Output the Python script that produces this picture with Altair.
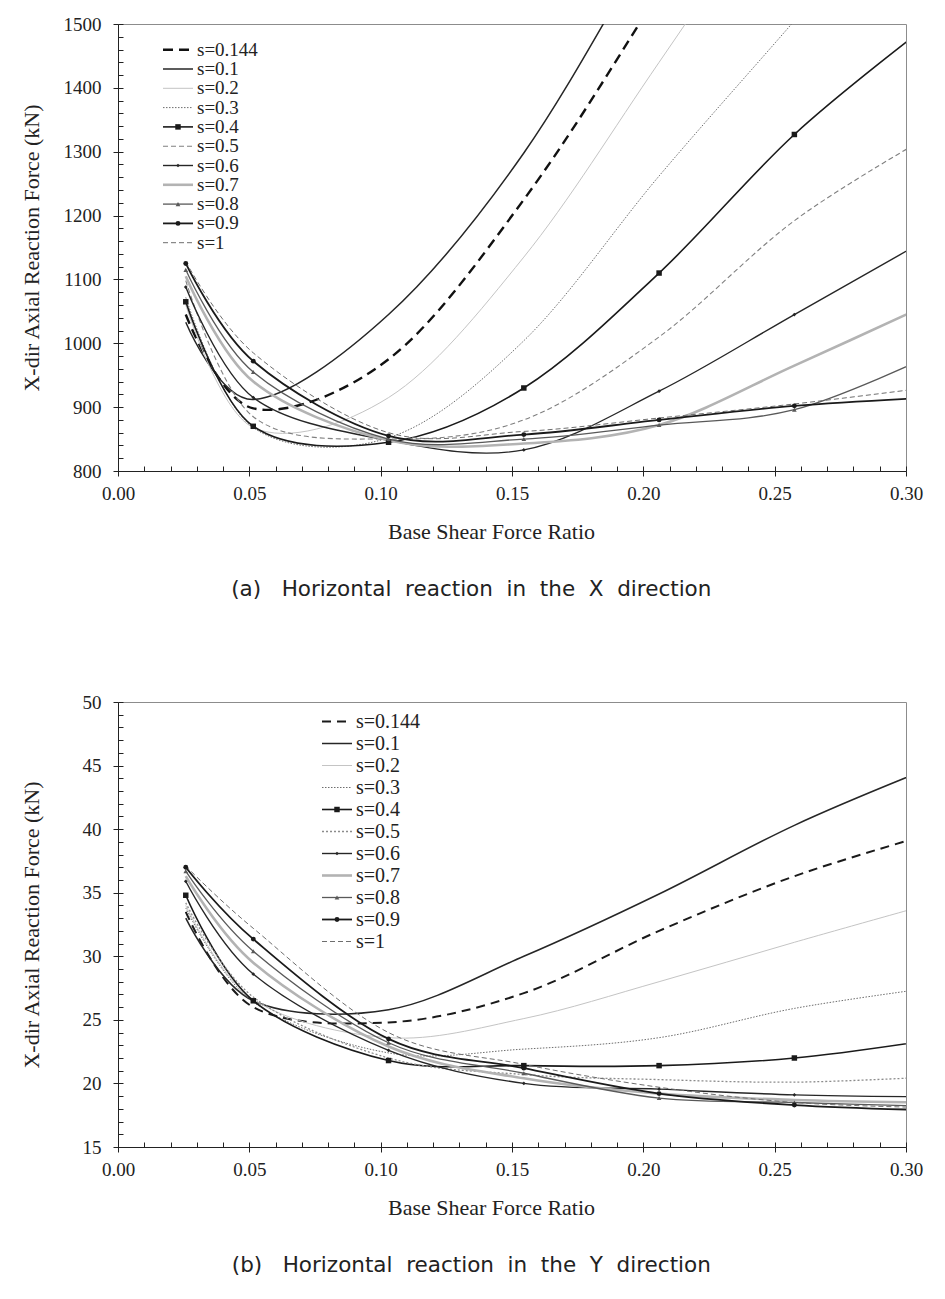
import altair as alt
import pandas as pd

SERIES = ["s=0.144", "s=0.1", "s=0.2", "s=0.3", "s=0.4", "s=0.5",
          "s=0.6", "s=0.7", "s=0.8", "s=0.9", "s=1"]
RATIO = [0.0258, 0.0515, 0.103, 0.1545, 0.206, 0.2575, 0.309]

# (a) X direction, kN
TOP_S0144 = [1045, 898, 975, 1225, 1550, 1900, 2250]
TOP_S01 = [1033, 912, 1045, 1298, 1650, 2000, 2350]
TOP_S02 = [1060, 868, 915, 1135, 1440, 1750, 2050]
TOP_S03 = [1072, 868, 852, 1004, 1262, 1505, 1750]
TOP_S04 = [1065, 870, 845, 930, 1110, 1327, 1500]
TOP_S05 = [1098, 885, 850, 880, 1010, 1192, 1325]
TOP_S06 = [1088, 915, 848, 833, 925, 1045, 1165]
TOP_S07 = [1105, 940, 848, 843, 872, 965, 1062]
TOP_S08 = [1115, 955, 850, 850, 872, 896, 980]
TOP_S09 = [1125, 972, 855, 857, 880, 902, 915]
TOP_S1 = [1128, 985, 860, 862, 883, 905, 931]

# (b) Y direction, kN
BOT_S0144 = [33.5, 26.0, 24.8, 27.1, 32.0, 36.3, 39.6]
BOT_S01 = [33.0, 26.5, 25.8, 30.0, 34.9, 40.3, 44.8]
BOT_S02 = [34.0, 26.6, 23.6, 25.1, 28.0, 31.1, 34.1]
BOT_S03 = [33.8, 26.4, 22.4, 22.7, 23.6, 25.9, 27.5]
BOT_S04 = [34.8, 26.5, 21.8, 21.4, 21.4, 22.0, 23.4]
BOT_S05 = [34.2, 26.8, 22.0, 20.7, 20.3, 20.1, 20.5]
BOT_S06 = [35.9, 28.6, 22.6, 20.0, 19.55, 19.1, 18.95]
BOT_S07 = [36.3, 29.5, 22.9, 20.4, 19.2, 18.7, 18.5]
BOT_S08 = [36.7, 30.4, 23.2, 20.8, 18.85, 18.5, 18.2]
BOT_S09 = [37.0, 31.35, 23.5, 21.2, 19.2, 18.3, 17.9]
BOT_S1 = [37.1, 32.2, 24.0, 21.5, 19.7, 18.5, 18.1]

TOP_VALUES = [TOP_S0144, TOP_S01, TOP_S02, TOP_S03, TOP_S04, TOP_S05,
              TOP_S06, TOP_S07, TOP_S08, TOP_S09, TOP_S1]
BOT_VALUES = [BOT_S0144, BOT_S01, BOT_S02, BOT_S03, BOT_S04, BOT_S05,
              BOT_S06, BOT_S07, BOT_S08, BOT_S09, BOT_S1]

X_MAJOR = [0.0, 0.05, 0.10, 0.15, 0.20, 0.25, 0.30]
X_MINOR = [round(i * 0.01, 2) for i in range(31)]

# style: colour, width, dash
TOP_STYLE = {
    "s=0.144": ("#111111", 2.4, [10, 6]),
    "s=0.1": ("#262626", 1.5, None),
    "s=0.2": ("#c4c4c4", 1.0, None),
    "s=0.3": ("#6e6e6e", 1.0, [1.5, 1.5]),
    "s=0.4": ("#1a1a1a", 1.6, None),
    "s=0.5": ("#808080", 1.1, [5, 3]),
    "s=0.6": ("#262626", 1.4, None),
    "s=0.7": ("#b3b3b3", 2.6, None),
    "s=0.8": ("#595959", 1.3, None),
    "s=0.9": ("#1a1a1a", 1.8, None),
    "s=1": ("#6e6e6e", 1.0, [5, 3]),
}
BOT_STYLE = dict(TOP_STYLE)
BOT_STYLE["s=0.144"] = ("#1a1a1a", 2.0, [9, 6])
BOT_STYLE["s=0.5"] = ("#8c8c8c", 1.3, [2, 2])

MARKERS = {"s=0.4": ("square", 30), "s=0.6": ("diamond", 14),
           "s=0.8": ("triangle-up", 22), "s=0.9": ("circle", 24)}

SERIF = "Liberation Serif"
NB = "\u00a0"


def long_df(values):
    rows = []
    for s, vals in zip(SERIES, values):
        for x, y in zip(RATIO, vals):
            rows.append({"s": s, "x": x, "y": y})
    return pd.DataFrame(rows)


legend_lines = pd.DataFrame([{"s": s, "lx": v} for s in SERIES for v in (0.0, 1.0)])
legend_marks = pd.DataFrame([{"s": s, "lx": 0.5} for s in SERIES])
legend_text = pd.DataFrame([{"s": s, "lx": 1.0} for s in SERIES])


def build_panel(values, y_domain, y_minor, y_major, height, style,
                leg_x0, leg_y0, leg_dy, leg_font, caption):
    width = 788
    data = long_df(values)
    xs = alt.Scale(domain=[0, 0.3], nice=False, zero=False)
    ys = alt.Scale(domain=list(y_domain), nice=False, zero=False)
    y_major_vals = list(range(y_domain[0], y_domain[1] + 1, y_major))
    y_minor_vals = list(range(y_domain[0], y_domain[1] + 1, y_minor))

    x_outer = alt.X("x:Q", scale=xs, title="Base Shear Force Ratio",
                    axis=alt.Axis(orient="bottom", values=X_MAJOR, format=".2f",
                                  tickSize=5, labelPadding=8, titlePadding=18,
                                  titleX=373, labelFlush=False, labelOverlap=False))
    y_outer = alt.Y("y:Q", scale=ys, title="X-dir Axial Reaction Force (kN)",
                    axis=alt.Axis(orient="left", values=y_major_vals, format="d",
                                  tickSize=5, labelPadding=12, minExtent=56,
                                  maxExtent=56, titlePadding=19,
                                  labelFlush=False, labelOverlap=False))
    x_inner = alt.X("x:Q", scale=xs, title=None,
                    axis=alt.Axis(orient="top", offset=-height, values=X_MINOR,
                                  tickSize=5, labels=False, domain=False))
    y_inner = alt.Y("y:Q", scale=ys, title=None,
                    axis=alt.Axis(orient="right", offset=-width, values=y_minor_vals,
                                  tickSize=5, labels=False, domain=False))
    x_plain = alt.X("x:Q", scale=xs, axis=None)
    y_plain = alt.Y("y:Q", scale=ys, axis=None)

    main_layers = []
    for i, s in enumerate(SERIES):
        color, sw, dash = style[s]
        kw = dict(interpolate="cardinal", clip=True, color=color,
                  strokeWidth=sw, strokeCap="butt")
        if dash:
            kw["strokeDash"] = dash
        if i == 0:
            enc = dict(x=x_outer, y=y_outer)
        elif i == 1:
            enc = dict(x=x_inner, y=y_inner)
        else:
            enc = dict(x=x_plain, y=y_plain)
        main_layers.append(
            alt.Chart(data).transform_filter(alt.datum.s == s)
            .mark_line(**kw).encode(**enc)
        )
    for s, (shape, size) in MARKERS.items():
        main_layers.append(
            alt.Chart(data).transform_filter(alt.datum.s == s)
            .mark_point(shape=shape, size=size, filled=True, opacity=1,
                        color=style[s][0], clip=True)
            .encode(x=x_plain, y=y_plain)
        )
    main = alt.layer(*main_layers).resolve_axis(x="independent", y="independent")

    LX = alt.X("lx:Q", scale=alt.Scale(domain=[0, 1], range=[leg_x0, leg_x0 + 30]),
               axis=None)
    LY = alt.Y("s:N", scale=alt.Scale(type="point", domain=SERIES,
                                      range=[leg_y0, leg_y0 + 10 * leg_dy], padding=0),
               axis=None)
    leg_layers = []
    for s in SERIES:
        color, sw, dash = style[s]
        kw = dict(color=color, strokeWidth=sw, strokeCap="butt")
        if dash:
            kw["strokeDash"] = dash
        leg_layers.append(
            alt.Chart(legend_lines).transform_filter(alt.datum.s == s)
            .mark_line(**kw).encode(x=LX, y=LY)
        )
    for s, (shape, size) in MARKERS.items():
        leg_layers.append(
            alt.Chart(legend_marks).transform_filter(alt.datum.s == s)
            .mark_point(shape=shape, size=size, filled=True, opacity=1,
                        color=style[s][0])
            .encode(x=LX, y=LY)
        )
    leg_layers.append(
        alt.Chart(legend_text).mark_text(font=SERIF, fontSize=leg_font, align="left",
                                         baseline="middle", dx=4, color="#222222")
        .encode(x=LX, y=LY, text="s:N")
    )
    legend = alt.layer(*leg_layers)

    return alt.layer(main, legend).resolve_scale(x="independent", y="independent").properties(
        width=width, height=height,
        title=alt.TitleParams(text=caption, orient="bottom", font="DejaVu Sans",
                              fontSize=21.5, fontWeight="normal", color="#222222",
                              offset=37, frame="bounds", anchor="middle"),
    )


def spaced(words):
    return (" " + NB).join(words)


top = build_panel(TOP_VALUES, (800, 1500), 20, 100, 447, TOP_STYLE,
                  45, 25.7, 19.3, 19,
                  spaced(["(a)" + NB, "Horizontal", "reaction", "in", "the", "X", "direction"]))
bottom = build_panel(BOT_VALUES, (15, 50), 1, 5, 445, BOT_STYLE,
                     204, 19.5, 22.0, 20,
                     spaced(["(b)" + NB, "Horizontal", "reaction", "in", "the", "Y", "direction"]))

chart = alt.vconcat(top, bottom, spacing=91).resolve_scale(
    x="independent", y="independent"
).properties(
    padding={"left": 11, "top": 6, "right": 5, "bottom": 5},
    background="white",
).configure_view(
    stroke="#8c8c8c", strokeWidth=1
).configure_axis(
    labelFont=SERIF, labelFontSize=19, labelColor="#222222",
    titleFont=SERIF, titleFontSize=22, titleFontWeight="normal", titleColor="#222222",
    domainColor="#222222", tickColor="#222222", grid=False,
)

chart.save("out.html", embed_options={"renderer": "svg", "actions": False})
